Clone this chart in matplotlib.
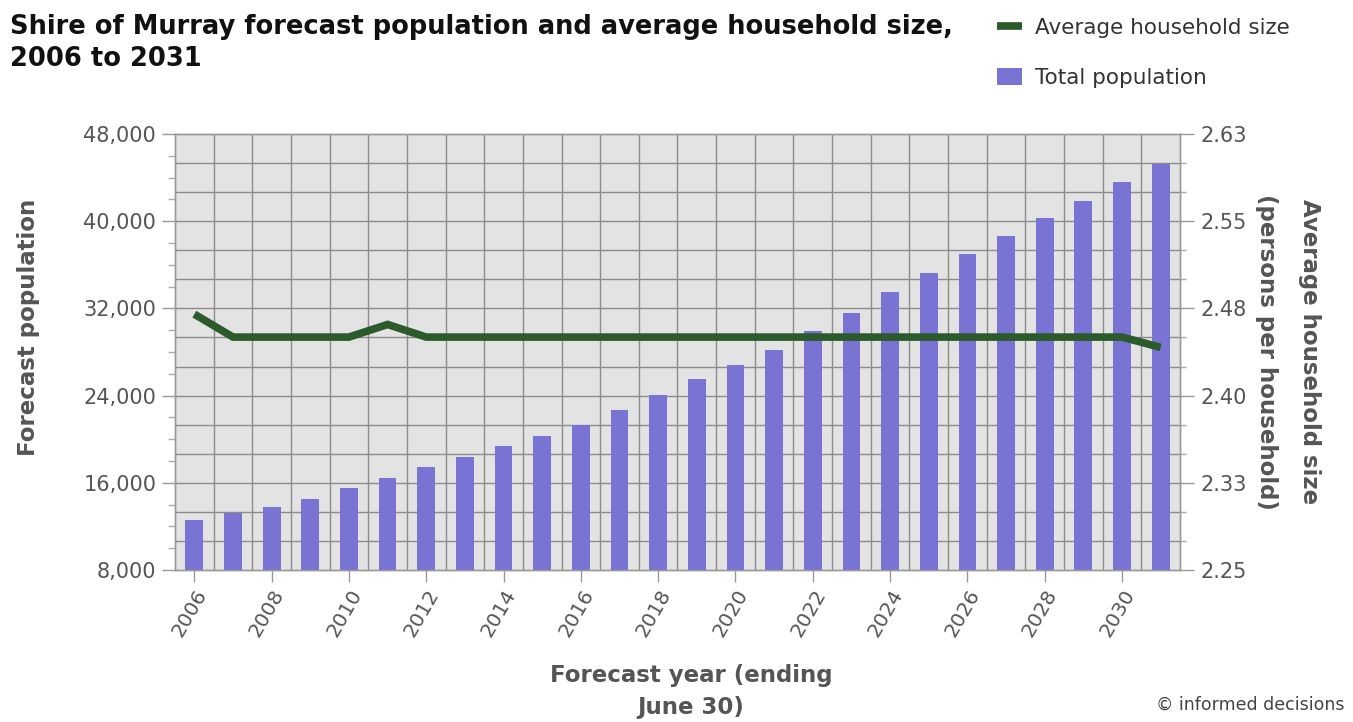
"""Shire of Murray forecast population and average household size, 2006 to 2031."""
import numpy as np
import matplotlib
matplotlib.use('Agg')
import matplotlib.pyplot as plt
from matplotlib.ticker import FixedLocator, FuncFormatter

BAR = '#7974d4'
GREEN = '#2b5a2b'
PANEL = '#e3e3e3'
GRID = '#8c8c8c'
TXT = '#555555'

plt.rcParams.update({'font.family': 'DejaVu Sans'})

years = list(range(2006, 2032))
population = [12600, 13250, 13800, 14500, 15500, 16450, 17450, 18400, 19400, 20300,
              21340, 22720, 24050, 25480, 26800, 28180, 29920, 31550, 33460, 35230,
              36980, 38640, 40300, 41860, 43600, 45260]
household_size = [2.473, 2.453, 2.453, 2.453, 2.453, 2.464, 2.453, 2.453, 2.453, 2.453,
                  2.453, 2.453, 2.453, 2.453, 2.453, 2.453, 2.453, 2.453, 2.453, 2.453,
                  2.453, 2.453, 2.453, 2.453, 2.453, 2.444]

W, H = 1353, 722
fig = plt.figure(figsize=(W / 100, H / 100), dpi=100)
ax = fig.add_axes([175 / W, 1 - 570 / H, 1005 / W, 436 / H])
ax2 = ax.twinx()

ax.set_facecolor(PANEL)
ax.set_xlim(2005.5, 2031.5)
ax.set_ylim(8000, 48000)
ax2.set_ylim(2.25, 2.63)

# grid: vertical at year boundaries, horizontal at thirds of the labelled steps
for xb in np.arange(2006.5, 2031.5, 1.0):
    ax.axvline(xb, color=GRID, lw=1.0, zorder=1)
for yb in np.linspace(8000, 48000, 16)[1:-1]:
    ax.axhline(yb, color=GRID, lw=1.0, zorder=1)

ax.bar(years, population, width=0.46, color=BAR, zorder=3, label='Total population')
ax2.plot(years, household_size, color=GREEN, lw=5.5, solid_capstyle='butt',
         solid_joinstyle='miter', zorder=5, label='Average household size')

for a in (ax, ax2):
    for s in a.spines.values():
        s.set_color('#999999')
        s.set_linewidth(1.0)

# left axis
ax.yaxis.set_major_locator(FixedLocator(np.arange(8000, 48001, 8000)))
ax.yaxis.set_minor_locator(FixedLocator(np.arange(8000, 48001, 2000)))
ax.yaxis.set_major_formatter(FuncFormatter(lambda v, p: f'{int(v):,}'))
ax.tick_params(axis='y', which='major', length=9.5, width=1, color='#999999',
               labelsize=15, labelcolor=TXT, pad=4)
ax.tick_params(axis='y', which='minor', length=5, width=1, color='#aaaaaa')

# bottom axis
ax.xaxis.set_major_locator(FixedLocator(years[::2]))
ax.tick_params(axis='x', which='major', length=8.5, width=1, color='#999999',
               labelsize=14.5, labelcolor=TXT, pad=3)
for lab in ax.get_xticklabels():
    lab.set_rotation(60)
    lab.set_ha('right')
    lab.set_rotation_mode('anchor')

# right axis
ax2.yaxis.set_major_locator(FixedLocator(np.linspace(2.25, 2.63, 6)))
ax2.yaxis.set_minor_locator(FixedLocator(np.linspace(2.25, 2.63, 16)))
ax2.yaxis.set_major_formatter(FuncFormatter(lambda v, p: f'{v:.2f}'))
ax2.tick_params(axis='y', which='major', length=10, width=1, color='#999999',
                labelsize=15, labelcolor=TXT, pad=5)
ax2.tick_params(axis='y', which='minor', length=4.5, width=1, color='#aaaaaa')

ax.set_ylabel('Forecast population', fontsize=16.5, fontweight='bold', color=TXT)
ax.yaxis.set_label_coords((40 - 175) / 1005, (570 - 327) / 436)
ax2.set_ylabel('Average household size\n(persons per household)', fontsize=16.5,
               fontweight='bold', color=TXT, rotation=-90, linespacing=2.15,
               va='center', ha='center')
ax2.yaxis.set_label_coords((1288 - 175) / 1005, (570 - 352) / 436)
ax.set_xlabel('Forecast year (ending\nJune 30)', fontsize=16.5, fontweight='bold',
              color=TXT, linespacing=1.5, va='top')
ax.xaxis.set_label_coords((691 - 175) / 1005, (570 - 664) / 436)

fig.text(10 / W, 1 - 14 / H, 'Shire of Murray forecast population and average household size,\n2006 to 2031',
         fontsize=18.5, fontweight='bold', color='#111111', va='top', ha='left', linespacing=1.3)

h2, l2 = ax2.get_legend_handles_labels()
h1, l1 = ax.get_legend_handles_labels()
leg = fig.legend(h2 + h1, l2 + l1, loc='upper left', bbox_to_anchor=(988 / W, 1 - 9 / H),
                 frameon=False, fontsize=15.5, labelspacing=1.4, handlelength=1.2,
                 handleheight=0.8, handletextpad=0.6, borderaxespad=0)
for t in leg.get_texts():
    t.set_color('#333333')

fig.text(1345 / W, 1 - 705 / H, '\u00a9 informed decisions', fontsize=12.5, color='#444444',
         ha='right', va='center')

fig.savefig('out.png', dpi=100)
